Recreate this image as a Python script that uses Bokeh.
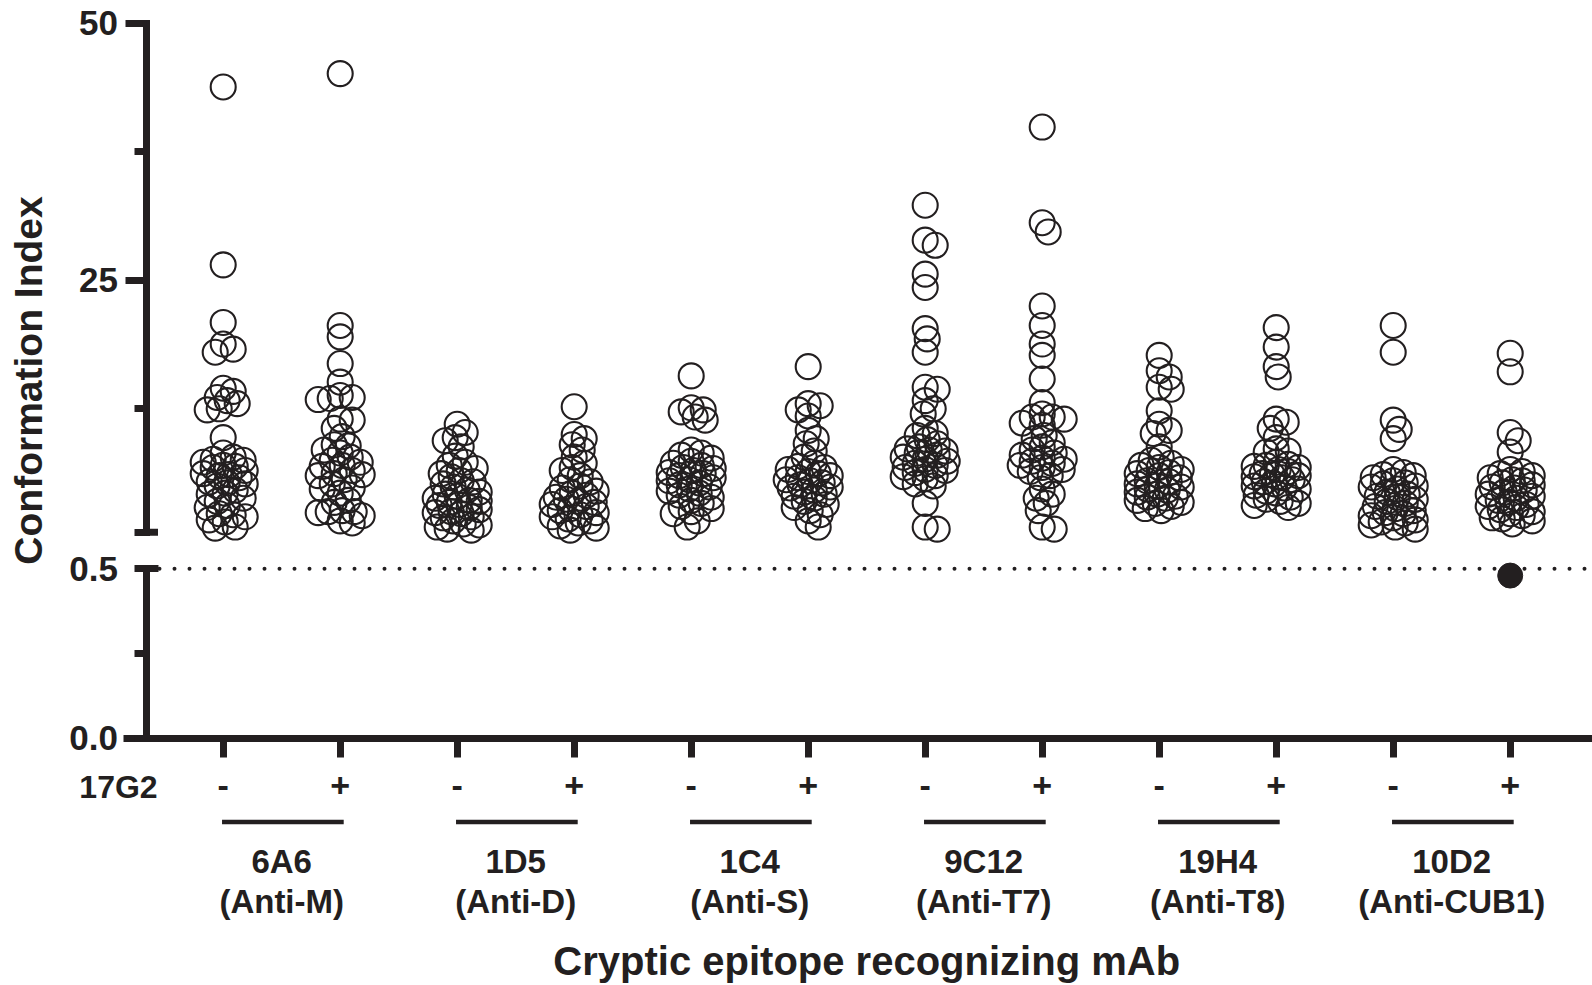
import math
from bokeh.plotting import figure
from bokeh.models import (Range1d, FixedTicker, BoxAnnotation, NumeralTickFormatter,
                          LinearAxis)
from bokeh.core.properties import value
from bokeh.embed import file_html
from bokeh.resources import INLINE

# ---------------- data ----------------
groups = ["6A6", "1D5", "1C4", "9C12", "19H4", "10D2"]
targets = ["(Anti-M)", "(Anti-D)", "(Anti-S)", "(Anti-T7)", "(Anti-T8)", "(Anti-CUB1)"]
treatment = ["-", "+"]
treatment_name = "17G2"
y_title = "Conformation Index"
x_title = "Cryptic epitope recognizing mAb"

upper_ticks = [25, 50]
upper_minor = [12.5, 37.5]
lower_ticks = [0.0, 0.5]
lower_minor = [0.25]
break_value = 0.5

v_6A6_minus = [43.8, 26.5, 20.9, 18.8, 18.3, 18.0, 14.5, 14.2, 13.6, 13.3, 13.0, 12.5, 12.4, 9.7,
               8.2, 7.8, 7.6, 7.5, 7.3, 7.0, 6.9, 6.8, 6.5, 6.2, 6.1, 6.0, 5.8, 5.4, 5.3, 5.2, 5.0,
               4.6, 4.3, 4.2, 3.8, 3.5, 3.1, 2.9, 2.3, 2.2, 2.0, 1.7, 1.5, 1.0, 0.9]
v_6A6_plus = [45.1, 20.6, 19.5, 16.9, 15.1, 13.8, 13.6, 13.5, 13.4, 11.5, 11.4, 10.6, 9.8, 9.0,
              8.9, 8.5, 8.2, 7.8, 7.5, 7.3, 7.0, 6.9, 6.5, 6.2, 6.1, 6.0, 5.6, 5.2, 4.8, 4.7, 4.3,
              3.6, 3.4, 2.6, 2.5, 2.5, 2.4, 2.1, 1.6, 1.4]
v_1D5_minus = [11.0, 10.2, 9.7, 9.4, 8.8, 7.9, 7.3, 7.0, 6.7, 6.5, 6.2, 5.9, 5.5, 5.4, 5.2, 4.9,
               4.6, 4.4, 4.2, 4.0, 3.8, 3.6, 3.5, 3.4, 3.2, 3.1, 2.9, 2.7, 2.5, 2.4, 2.3, 2.0, 1.9,
               1.6, 1.3, 1.2, 1.0, 0.8, 0.7]
v_1D5_plus = [12.7, 10.0, 9.6, 9.0, 8.5, 7.8, 7.2, 6.8, 6.5, 6.0, 5.6, 5.4, 5.0, 4.8, 4.5, 4.3,
              4.1, 3.9, 3.7, 3.5, 3.4, 3.2, 3.0, 2.8, 2.6, 2.4, 2.2, 2.0, 1.8, 1.6, 1.4, 1.1, 0.9, 0.7]
v_1C4_minus = [15.7, 12.6, 12.4, 12.2, 11.7, 11.4, 8.5, 8.2, 8.0, 7.7, 7.4, 7.2, 7.0, 6.8, 6.7,
               6.5, 6.3, 6.2, 6.0, 5.8, 5.6, 5.5, 5.3, 5.1, 4.9, 4.7, 4.5, 4.3, 4.1, 3.9, 3.6, 3.3,
               3.0, 2.8, 2.5, 2.3, 1.6, 1.0]
v_1C4_plus = [16.6, 13.0, 12.8, 12.4, 11.8, 10.4, 9.6, 9.1, 8.4, 7.8, 7.2, 6.9, 6.8, 6.6, 6.4,
              6.2, 6.0, 5.8, 5.6, 5.5, 5.3, 5.1, 4.9, 4.8, 4.6, 4.4, 4.2, 4.0, 3.8, 3.5, 3.2, 2.9,
              2.6, 2.2, 1.6, 1.0]
v_9C12_minus = [32.3, 28.9, 28.4, 25.6, 24.3, 20.3, 19.3, 18.0, 14.6, 14.4, 13.3, 12.5, 12.0, 10.6,
                10.1, 9.9, 9.5, 9.1, 8.8, 8.6, 8.5, 8.4, 8.2, 8.0, 7.8, 7.6, 7.4, 7.2, 7.0, 6.8,
                6.6, 6.5, 6.3, 6.0, 5.9, 5.7, 5.2, 5.0, 3.3, 1.0, 0.8]
v_9C12_plus = [39.9, 30.6, 29.7, 22.5, 20.6, 18.8, 17.7, 15.4, 13.1, 12.0, 11.7, 11.7, 11.5, 11.1,
               10.9, 9.9, 9.6, 9.2, 8.8, 8.5, 8.2, 8.0, 7.7, 7.6, 7.4, 7.2, 7.0, 6.8, 6.6, 6.4,
               6.0, 5.8, 4.7, 4.2, 3.8, 3.3, 2.6, 1.0, 0.8]
v_19H4_minus = [17.7, 16.2, 15.6, 14.6, 14.4, 12.3, 11.0, 10.4, 10.1, 8.8, 7.8, 7.5, 7.2, 7.0,
                6.8, 6.6, 6.5, 6.3, 6.2, 6.0, 5.8, 5.5, 5.4, 5.2, 5.0, 4.9, 4.7, 4.6, 4.4, 4.2,
                4.0, 3.9, 3.8, 3.6, 3.4, 3.3, 3.0, 2.8, 2.6]
v_19H4_plus = [20.4, 18.5, 16.6, 15.6, 11.5, 11.2, 10.6, 9.7, 8.6, 8.4, 8.3, 7.3, 7.1, 7.0, 6.9,
               6.8, 6.6, 6.4, 6.2, 6.1, 6.0, 5.9, 5.8, 5.6, 5.4, 5.2, 5.0, 4.8, 4.7, 4.5, 4.3,
               4.1, 3.9, 3.7, 3.5, 3.3, 3.1, 2.9]
v_10D2_minus = [20.6, 18.0, 11.4, 10.5, 9.6, 6.6, 6.3, 6.1, 6.0, 5.8, 5.5, 5.3, 5.2, 5.0, 4.9,
                4.7, 4.4, 4.2, 4.0, 3.9, 3.7, 3.5, 3.3, 3.0, 2.8, 2.6, 2.4, 2.3, 2.1, 1.9, 1.7,
                1.5, 1.4, 1.2, 1.0, 0.8]
v_10D2_plus = [17.9, 16.1, 10.2, 9.4, 8.3, 6.6, 6.4, 6.2, 6.0, 5.8, 5.6, 5.5, 5.3, 5.1, 4.9, 4.8,
               4.6, 4.4, 4.2, 4.0, 3.8, 3.6, 3.4, 3.2, 3.0, 2.9, 2.7, 2.5, 2.3, 2.1, 1.9, 1.8,
               1.6, 1.3, 0.48]

columns = [v_6A6_minus, v_6A6_plus, v_1D5_minus, v_1D5_plus, v_1C4_minus, v_1C4_plus,
           v_9C12_minus, v_9C12_plus, v_19H4_minus, v_19H4_plus, v_10D2_minus, v_10D2_plus]

# ---------------- layout constants (page pixels) ----------------
INK = "#231f20"
FONT = "Liberation Sans"
PAGE_W, PAGE_H = 1592, 985
X0 = 222.7          # pixel of first category
SP = 117.0          # pixels between categories
YAXIS_PX = 145.5    # pixel column of the y axis
TOP_PX = 22.7       # pixel row of the top tick
S_UP = 10.283       # px per unit, upper segment
AXIS_PX = 737.7     # pixel row of the x axis (value 0)
S_LO = 338.8        # px per unit, lower segment
MARKER = 25

upper_top = max(upper_ticks)


def xd(px):
    return (px - X0) / SP


def yu(px):
    return upper_top - (px - TOP_PX) / S_UP


def yl(px):
    return (AXIS_PX - px) / S_LO


positions = list(range(len(columns)))


def swarm(vals, scale, step=2.0, max_off=23.0, gap=10.5):
    cands = [0.0]
    k = 1
    while k * step <= max_off:
        cands += [k * step, -k * step]
        k += 1
    placed, offs = [], []
    for v in vals:
        y = v * scale
        best, best_cost = 0.0, None
        for c in cands:
            cost = 0.03 * abs(c)
            for (px, py) in placed:
                d = math.hypot(c - px, y - py)
                if d < gap:
                    cost += gap - d
            if best_cost is None or cost < best_cost - 1e-9:
                best, best_cost = c, cost
        placed.append((best, y))
        offs.append(best)
    return offs


top_x, top_y, low_x, low_y = [], [], [], []
for i, vals in enumerate(columns):
    hi = [v for v in vals if v >= break_value]
    lo = [v for v in vals if v < break_value]
    for v, o in zip(hi, swarm(hi, S_UP)):
        top_x.append(positions[i] + o / SP)
        top_y.append(v)
    for v, o in zip(lo, swarm(lo, S_LO)):
        low_x.append(positions[i] + o / SP)
        low_y.append(v)

# ---------------- figure ----------------
p = figure(width=PAGE_W, height=PAGE_H, output_backend="svg", toolbar_location=None,
           x_range=Range1d(xd(0), xd(PAGE_W)), y_range=Range1d(yu(PAGE_H), yu(0)),
           x_axis_location=None, y_axis_location=None, min_border=0,
           min_border_left=0, min_border_right=0, min_border_top=0, min_border_bottom=0)
p.extra_y_ranges = {"low": Range1d(yl(PAGE_H), yl(0))}
p.outline_line_color = None
p.grid.grid_line_color = None
p.background_fill_color = "white"
p.border_fill_color = "white"


def style_axis(ax, size="35px"):
    ax.axis_line_width = 7
    ax.axis_line_color = INK
    ax.axis_line_cap = "square"
    ax.major_tick_line_width = 7
    ax.minor_tick_line_width = 7
    ax.major_tick_line_color = INK
    ax.minor_tick_line_color = INK
    ax.major_label_text_font = FONT
    ax.major_label_text_font_style = "bold"
    ax.major_label_text_font_size = size
    ax.major_label_text_color = INK


# upper segment axis
ya = LinearAxis(ticker=FixedTicker(ticks=upper_ticks, minor_ticks=[break_value] + upper_minor),
                bounds=(break_value, upper_top), fixed_location=xd(YAXIS_PX))
style_axis(ya)
ya.major_tick_out = 21
ya.major_tick_in = 0
ya.minor_tick_out = 12
ya.minor_tick_in = 0
ya.major_label_standoff = 7
p.add_layout(ya, "left")
# right half of the break cap of the upper segment
p.add_layout(BoxAnnotation(left=xd(YAXIS_PX), right=xd(YAXIS_PX + 12),
                           bottom=break_value - 3.5 / S_UP, top=break_value + 3.5 / S_UP,
                           fill_color=INK, fill_alpha=1.0, line_color=None))

# lower segment axis
yb = LinearAxis(y_range_name="low",
                ticker=FixedTicker(ticks=lower_ticks, minor_ticks=lower_minor),
                formatter=NumeralTickFormatter(format="0.0"),
                bounds=(min(lower_ticks), max(lower_ticks)), fixed_location=xd(YAXIS_PX))
style_axis(yb)
yb.major_tick_out = 12
yb.major_tick_in = 12
yb.minor_tick_out = 12
yb.minor_tick_in = 0
yb.major_label_standoff = 16
p.add_layout(yb, "left")

# x axis
xa = LinearAxis(ticker=FixedTicker(ticks=positions, minor_ticks=[]),
                bounds=(xd(123), xd(PAGE_W)), fixed_location=yu(AXIS_PX))
style_axis(xa, size="34px")
xa.axis_line_cap = "butt"
xa.major_label_overrides = {pos: treatment[pos % 2] for pos in positions}
xa.major_tick_out = 19
xa.major_tick_in = 0
xa.major_label_standoff = 17
p.add_layout(xa, "below")

# threshold line at the break value
p.segment(x0=[xd(159)], x1=[xd(PAGE_W)], y0=[break_value], y1=[break_value],
          y_range_name="low", line_color=INK, line_width=4, line_dash="0 15", line_cap="round")

# points
p.scatter(top_x, top_y, marker="circle", size=MARKER, fill_color=None,
          line_color=INK, line_width=2.1)
p.scatter(low_x, low_y, marker="circle", size=MARKER, fill_color=INK, line_color=INK,
          y_range_name="low")

# labels
txt = dict(text_font=value(FONT), text_font_style="bold", text_color=INK,
           text_align="center", text_baseline="middle")
minus_pos = positions[0::2]
plus_pos = positions[1::2]
centers = [(a + b) / 2 for a, b in zip(minus_pos, plus_pos)]
p.text(x=[xd(118)], y=[yu(786)], text=[treatment_name], text_font_size="32px", **txt)
p.segment(x0=[m - 0.01 for m in minus_pos], x1=[q + 0.03 for q in plus_pos],
          y0=[yu(821.5)] * len(groups), y1=[yu(821.5)] * len(groups),
          line_color=INK, line_width=4.5)
p.text(x=centers, y=[yu(861)] * len(groups), text=groups, text_font_size="33px", **txt)
p.text(x=centers, y=[yu(901)] * len(groups), text=targets, text_font_size="33px", **txt)
p.text(x=[sum(positions) / len(positions)], y=[yu(960)], text=[x_title],
       text_font_size="40px", **txt)
p.text(x=[xd(28)], y=[yu(380)], text=[y_title], angle=math.pi / 2, text_font_size="39px", **txt)

open("out.html", "w").write(file_html(p, INLINE))
